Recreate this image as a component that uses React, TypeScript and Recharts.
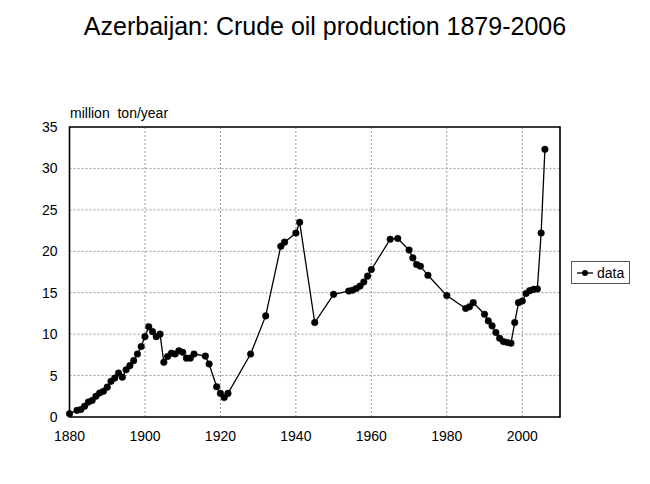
import React from "react";
import {
  LineChart,
  Line,
  XAxis,
  YAxis,
  CartesianGrid,
  Legend,
  ReferenceArea,
} from "recharts";

const years = [
  1880, 1882, 1883, 1884, 1885, 1886, 1887, 1888, 1889, 1890,
  1891, 1892, 1893, 1894, 1895, 1896, 1897, 1898, 1899, 1900,
  1901, 1902, 1903, 1904, 1905, 1906, 1907, 1908, 1909, 1910,
  1911, 1912, 1913, 1916, 1917, 1919, 1920, 1921, 1922, 1928,
  1932, 1936, 1937, 1940, 1941, 1945, 1950, 1954, 1955, 1956,
  1957, 1958, 1959, 1960, 1965, 1967, 1970, 1971, 1972, 1973,
  1975, 1980, 1985, 1986, 1987, 1990, 1991, 1992, 1993, 1994,
  1995, 1996, 1997, 1998, 1999, 2000, 2001, 2002, 2003, 2004,
  2005, 2006,
];

const production = [
  0.4, 0.8, 0.9, 1.3, 1.8, 2.0, 2.5, 2.9, 3.1, 3.6,
  4.3, 4.7, 5.3, 4.8, 5.7, 6.2, 6.8, 7.6, 8.5, 9.7,
  10.9, 10.3, 9.7, 10.0, 6.6, 7.3, 7.7, 7.6, 8.0, 7.8,
  7.1, 7.1, 7.6, 7.35, 6.4, 3.65, 2.85, 2.35, 2.85, 7.6,
  12.2, 20.6, 21.1, 22.2, 23.5, 11.4, 14.8, 15.2, 15.3, 15.5,
  15.8, 16.3, 17.0, 17.8, 21.45, 21.55, 20.15, 19.2, 18.4, 18.2,
  17.1, 14.65, 13.1, 13.3, 13.8, 12.4, 11.6, 11.0, 10.2, 9.5,
  9.1, 9.0, 8.9, 11.4, 13.8, 14.0, 14.9, 15.25, 15.4, 15.45,
  22.2, 32.3,
];

const xTicks = [1880, 1900, 1920, 1940, 1960, 1980, 2000];
const yTicks = [0, 5, 10, 15, 20, 25, 30, 35];

const title = "Azerbaijan: Crude oil production 1879-2006";
const yLabel = "million\u00a0 ton/year";
const seriesName = "data";

const table = years.map((y, i) => ({ year: y, value: production[i] }));

const FONT = "'Liberation Sans', Arial, sans-serif";

const LegendBox = () => (
  <div
    style={{
      width: 59,
      height: 23,
      border: "1px solid #555",
      background: "#fff",
      boxSizing: "border-box",
      display: "flex",
      alignItems: "center",
      fontFamily: FONT,
      fontSize: 14,
      color: "#000",
    }}
  >
    <svg width={22} height={12} style={{ marginLeft: 2 }}>
      <line x1={3} y1={6} x2={19} y2={6} stroke="#000" strokeWidth={1.3} />
      <circle cx={11} cy={6} r={3} fill="#000" />
    </svg>
    <span style={{ marginLeft: 1 }}>{seriesName}</span>
  </div>
);

export default function App() {
  return (
    <div style={{ position: "relative", width: 650, height: 484, background: "#fff" }}>
      <style>{`body{margin:0;}`}</style>
      <div
        style={{
          position: "absolute",
          left: 0,
          top: 12,
          width: 650,
          textAlign: "center",
          fontFamily: FONT,
          fontSize: 25,
          color: "#000",
          lineHeight: "28px",
        }}
      >
        {title}
      </div>
      <div
        style={{
          position: "absolute",
          left: 70,
          top: 104,
          fontFamily: FONT,
          fontSize: 14,
          color: "#000",
          lineHeight: "18px",
          whiteSpace: "nowrap",
        }}
      >
        {yLabel}
      </div>
      <LineChart
        width={650}
        height={484}
        data={table}
        margin={{ top: 127, right: 90, bottom: 37, left: 9.5 }}
        style={{ position: "absolute", left: 0, top: 0 }}
      >
        <CartesianGrid stroke="#999" strokeDasharray="2 2" />
        <XAxis
          dataKey="year"
          type="number"
          domain={[1880, 2010]}
          ticks={xTicks}
          tickLine={false}
          axisLine={false}
          tickMargin={8}
          height={30}
          tick={{ fill: "#000", fontSize: 14, fontFamily: FONT }}
        />
        <YAxis
          type="number"
          domain={[0, 35]}
          ticks={yTicks}
          tickLine={false}
          axisLine={false}
          tickMargin={6}
          width={60}
          tick={{ fill: "#000", fontSize: 14, fontFamily: FONT }}
        />
        <ReferenceArea
          x1={1880}
          x2={2010}
          y1={0}
          y2={35}
          fill="none"
          stroke="#000"
          strokeWidth={1.6}
          fillOpacity={0}
          ifOverflow="visible"
        />
        <Line
          type="linear"
          dataKey="value"
          name={seriesName}
          stroke="#000"
          strokeWidth={1.3}
          dot={{ r: 3.3, fill: "#000", stroke: "#000", strokeWidth: 0.5 }}
          isAnimationActive={false}
        />
        <Legend
          layout="horizontal"
          verticalAlign="middle"
          align="center"
          content={() => <LegendBox />}
          wrapperStyle={{ position: "absolute", left: 571, top: 261, width: 59, height: 23 }}
        />
      </LineChart>
    </div>
  );
}
